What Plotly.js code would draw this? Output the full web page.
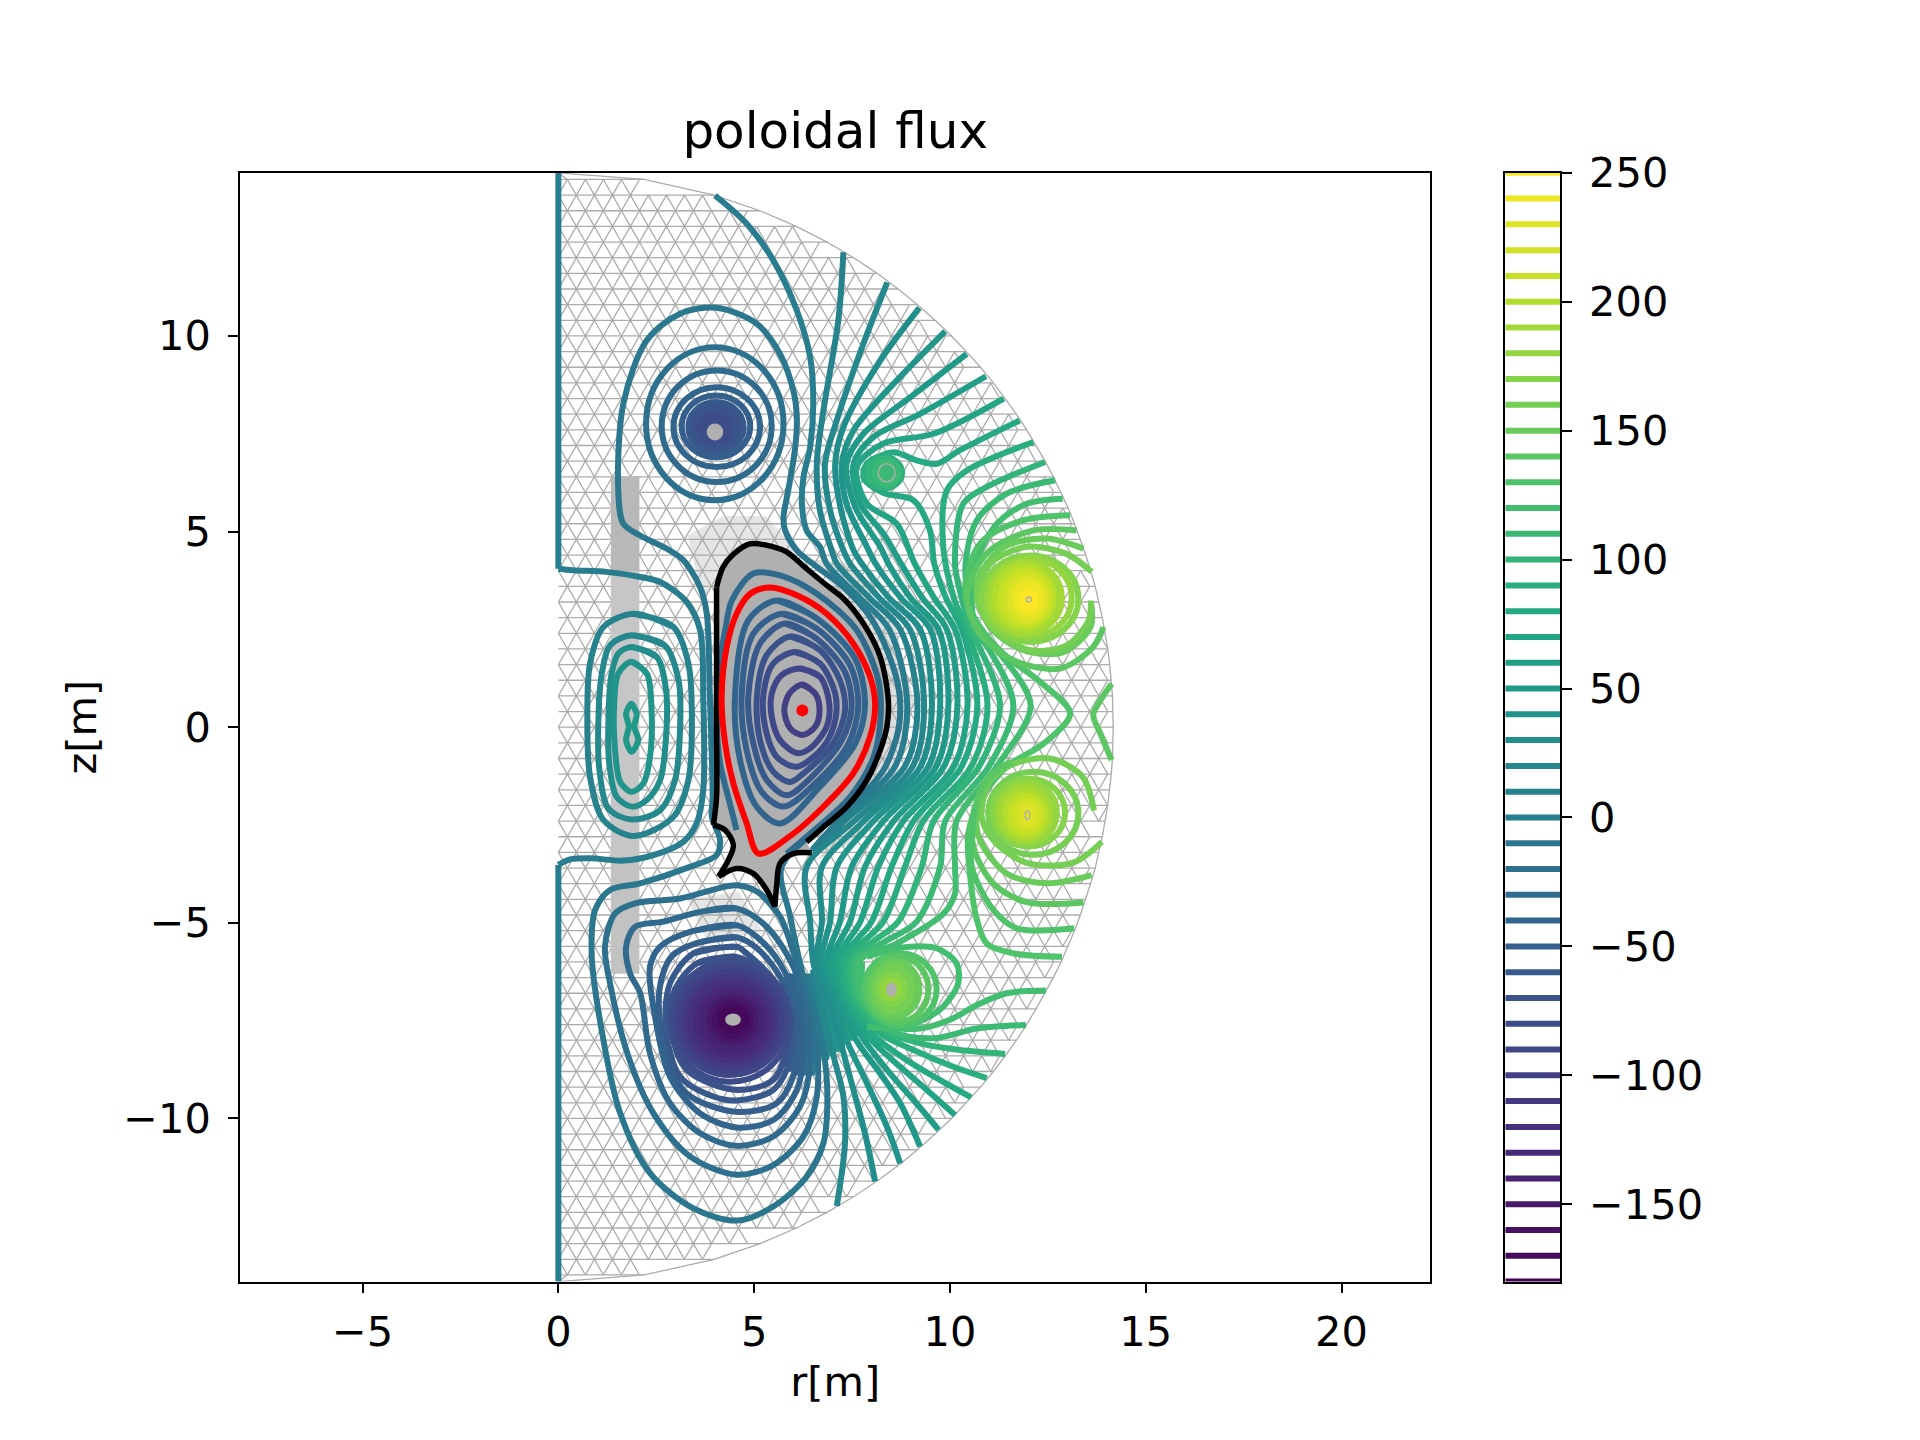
<!DOCTYPE html>
<html>
<head>
<meta charset="utf-8">
<script src="https://cdn.plot.ly/plotly-3.0.1.min.js"></script>
<style>body{margin:0;background:#fff}#chart{width:1920px;height:1440px}</style>
</head>
<body>
<div id="chart"></div>
<script>
// colour bar
const levels = [-180,-170,-160,-150,-140,-130,-120,-110,-100,-90,-80,-70,-60,-50,-40,-30,-20,-10,0,10,20,30,40,50,60,70,80,90,100,110,120,130,140,150,160,170,180,190,200,210,220,230,240,250];
const colorbarTicks = [-150,-100,-50,0,50,100,150,200,250];
const viridis = ['#440154','#482475','#414487','#355f8d','#2a788e','#21918c','#22a884','#44bf70','#7ad151','#bddf26','#fde725'];

// background mesh: row heights, right edge of each row, node columns
const meshZ = [14.17,14,13.6,13.2,12.8,12.4,12,11.6,11.2,10.8,10.4,10,9.6,9.2,8.8,8.4,8,7.6,7.2,6.8,6.4,6,5.6,5.2,4.8,4.4,4,3.6,3.2,2.8,2.4,2,1.6,1.2,.8,.4,0,-.4,-.8,-1.2,-1.6,-2,-2.4,-2.8,-3.2,-3.6,-4,-4.4,-4.8,-5.2,-5.6,-6,-6.4,-6.8,-7.2,-7.6,-8,-8.4,-8.8,-9.2,-9.6,-10,-10.4,-10.8,-11.2,-11.6,-12,-12.4,-12.8,-13.2,-13.6,-14,-14.17];
const meshOuter = [0,2.19,3.98,5.15,6.08,6.86,7.54,8.14,8.68,9.17,9.62,10.04,10.42,10.78,11.11,11.41,11.7,11.96,12.2,12.43,12.64,12.84,13.02,13.18,13.33,13.47,13.59,13.71,13.8,13.89,13.96,14.03,14.08,14.12,14.15,14.16,14.17,14.16,14.15,14.12,14.08,14.03,13.96,13.89,13.8,13.71,13.59,13.47,13.33,13.18,13.02,12.84,12.64,12.43,12.2,11.96,11.7,11.41,11.11,10.78,10.42,10.04,9.62,9.17,8.68,8.14,7.54,6.86,6.08,5.15,3.98,2.19,0];
const meshR = [0,.23,.46,.69,.92,1.15,1.38,1.61,1.84,2.07,2.3,2.53,2.76,2.99,3.22,3.45,3.68,3.91,4.14,4.37,4.6,4.83,5.06,5.29,5.52,5.75,5.98,6.21,6.44,6.67,6.9,7.13,7.36,7.59,7.82,8.05,8.28,8.51,8.74,8.97,9.2,9.43,9.66,9.89,10.12,10.35,10.58,10.81,11.04,11.27,11.5,11.73,11.96,12.19,12.42,12.65,12.88,13.11,13.34,13.57,13.8,14.03];

// refined mesh patches
const denseBandTop = [[1.34,6.4],[2.07,6.4],[2.07,4],[1.34,4]];
const denseBandMid = [[1.34,4],[2.07,4],[2.07,-3.4],[1.34,-3.4]];
const denseBandLow = [[1.34,-3.4],[2.07,-3.4],[2.07,-6.3],[1.34,-6.3]];
const denseUpper = [[3.3,4.9],[4.2,5.4],[5.3,5.4],[6.2,4.4],[5,4.75],[4.1,3.9],[3.7,3.2]];
const denseLower = [[3.3,-4.4],[4.6,-4.2],[5.2,-5.2],[3.8,-5.5]];
const denseRight = [[6.4,4.3],[7.4,4.2],[8.6,2.6],[9.1,.6],[8.6,-1.4],[7.4,-3],[6.6,-3.4],[7.9,-1.6],[8.45,.6],[7.9,2.6]];

// axis and the lines next to it
const axisUpper = [[0,14.17],[0,4.05]];
const axisLower = [[0,-3.52],[0,-14.17]];
const innerZero = [[0,4.05],[.38,4.01],[1.23,3.97],[2.09,3.84],[2.6,3.71],[3.28,3.2],[3.62,2.48],[3.7,.77],[3.7,-1.61],[3.53,-2.46],[3.19,-2.93],[2.43,-3.27],[1.66,-3.41],[.81,-3.35],[.3,-3.38],[0,-3.52]];

// central solenoid loops
const sol10 = [[1.92,2.9],[2.94,2.56],[3.32,1.63],[3.41,.26],[3.32,-1.35],[2.94,-2.29],[1.92,-2.78],[1.15,-2.37],[.81,-1.27],[.74,.26],[.81,1.63],[1.15,2.56]];
const sol20 = [[1.87,2.35],[2.72,2.09],[3.07,1.2],[3.11,.01],[2.98,-1.35],[2.6,-2.12],[1.87,-2.36],[1.28,-2.08],[1.05,-1.1],[1.02,.09],[1.11,1.37],[1.32,2.09]];
const sol30 = [[1.87,2.05],[2.51,1.8],[2.75,.95],[2.75,-.25],[2.6,-1.35],[2.26,-1.86],[1.87,-2.03],[1.49,-1.78],[1.3,-.93],[1.28,.26],[1.36,1.37],[1.53,1.88]];
const sol40 = [[1.87,1.67],[2.26,1.37],[2.38,.43],[2.34,-.76],[2.17,-1.44],[1.87,-1.65],[1.58,-1.4],[1.45,-.59],[1.42,.43],[1.53,1.37]];
const sol50 = [[1.87,.6],[2,.35],[1.94,.01],[2.04,-.33],[1.87,-.63],[1.73,-.33],[1.8,.01],[1.73,.35]];

// plasma
const plasma100 = [[6.23,1.09],[6.56,.86],[6.67,.43],[6.56,.01],[6.23,-.2],[5.92,-.03],[5.77,.43],[5.9,.86]];
const plasma90 = [[6.17,1.5],[6.68,1.29],[6.92,.6],[6.85,.01],[6.43,-.54],[6.09,-.66],[5.66,-.33],[5.45,.26],[5.45,.86],[5.7,1.33]];
const plasma80 = [[6.05,1.92],[6.68,1.63],[7.07,.86],[7.07,.18],[6.77,-.5],[6.09,-1.01],[5.58,-.76],[5.28,.01],[5.24,.86],[5.49,1.63]];
const plasma70 = [[5.92,2.32],[6.68,1.97],[7.19,1.2],[7.32,.43],[7.02,-.42],[6.26,-1.18],[5.92,-1.4],[5.49,-1.14],[5.15,-.33],[5.07,.77],[5.32,1.84]];
const plasma60 = [[5.79,2.65],[6.6,2.26],[7.32,1.41],[7.49,.52],[7.24,-.33],[6.43,-1.31],[5.83,-1.74],[5.32,-1.35],[4.98,-.42],[4.85,.77],[5.15,2.14]];
const plasma50 = [[5.7,2.9],[6.6,2.52],[7.45,1.58],[7.66,.56],[7.41,-.42],[6.6,-1.4],[5.75,-2.03],[5.19,-1.65],[4.81,-.59],[4.68,.77],[4.98,2.39]];
const plasma40 = [[5.58,3.24],[6.6,2.78],[7.58,1.75],[7.83,.6],[7.58,-.42],[6.68,-1.52],[5.66,-2.46],[5.07,-2.04],[4.64,-.84],[4.51,.77],[4.85,2.73]];
const plasmaEdge = [[4.55,-2.63],[4.38,-1.95],[4.13,-.93],[4.04,.26],[4.09,1.46],[4.26,2.48],[4.43,3.24],[4.98,3.93],[5.66,3.88],[6.6,3.41],[7.62,2.48],[8.17,1.2],[8.23,.26],[8.05,-.76],[7.45,-1.78],[6.34,-2.8],[5.83,-3.23]];
const separatrix = [[5.11,-3.23],[4.81,-2.46],[4.47,-1.44],[4.26,-.42],[4.17,.77],[4.3,2.05],[4.55,2.9],[4.9,3.41],[5.41,3.57],[6.09,3.37],[6.85,2.9],[7.53,2.14],[7.96,1.29],[8.09,.6],[7.96,-.25],[7.53,-1.18],[6.85,-1.95],[6,-2.72],[5.11,-3.23]];
const magneticAxis = [[6.23,.43]];

// black boundary, five arcs between its corners
const wallRight = [[4.04,3.58],[4.21,4.1],[4.47,4.42],[4.9,4.69],[5.49,4.61],[5.83,4.48],[6.34,4.05],[6.85,3.63],[7.28,3.29],[7.79,2.65],[8.22,1.8],[8.43,.65],[8.39,.01],[8.22,-.59],[7.88,-1.35],[7.37,-2.03],[6.77,-2.55],[6.34,-2.93]];
const wallCusp1 = [[6.47,-3.21],[6,-3.23],[5.66,-3.48],[5.58,-3.99],[5.53,-4.59]];
const wallCusp2 = [[5.53,-4.59],[5.32,-4.16],[4.98,-3.74],[4.55,-3.61],[4.09,-3.82]];
const wallCusp3 = [[4.09,-3.82],[4.34,-3.4],[4.47,-3.01],[4.26,-2.63],[3.96,-2.5]];
const wallLeft = [[3.96,-2.5],[4.04,-1.78],[4.04,-.08],[4.04,1.63],[4.04,3.58]];

// the long closed line around both lower and upper coils
const outerLoop = [[5.7,-3.57],[6.6,-2.63],[7.62,-1.86],[8.3,-1.1],[8.68,-.08],[8.71,.86],[8.43,1.88],[7.96,2.82],[7.28,3.58],[6.6,4.1],[6.09,4.52],[5.79,5.03],[5.75,5.37],[5.87,6.05],[6.05,7.16],[6.09,7.93],[6,8.61],[5.66,9.54],[5.07,10.31],[4.04,10.72],[3.11,10.57],[2.26,9.89],[1.66,8.27],[1.53,6.05],[1.66,5.2],[2.09,4.9],[2.77,4.56],[3.19,4.27],[3.62,3.58],[3.79,2.9],[3.87,.77],[3.94,-1.78],[3.92,-2.29],[4.13,-2.89],[4.04,-3.27],[3.36,-3.57],[2.09,-3.99],[1.32,-4.16],[.94,-4.67],[.85,-5.78],[1.06,-7.48],[1.58,-9.87],[2.34,-11.4],[3.45,-12.3],[4.56,-12.61],[5.49,-12.25],[6.34,-11.49],[6.77,-10.63],[6.87,-9.44],[6.77,-8.25],[6.51,-7.14],[6.26,-6.38],[5.92,-4.84],[5.7,-3.57]];

// lower left coil, outer loops
const lowA = [[5.66,-4.84],[5.15,-4.25],[4.55,-4.04],[3.11,-4.38],[1.96,-4.5],[1.45,-4.76],[1.19,-5.61],[1.32,-6.55],[1.79,-8.42],[2.43,-9.87],[3.36,-10.97],[4.55,-11.44],[5.49,-11.19],[6.26,-10.46],[6.6,-9.44],[6.6,-8.25],[6.39,-7.23],[6.09,-6.04]];
const lowB = [[4.55,-4.63],[3.62,-4.72],[2.68,-4.97],[1.96,-5.1],[1.73,-5.61],[1.83,-6.29],[2.09,-6.8],[2.34,-8.34],[2.85,-9.61],[3.62,-10.38],[4.55,-10.7],[5.49,-10.46],[6.17,-9.7],[6.43,-8.59],[6.34,-7.4],[6,-6.12],[5.32,-5.1]];
const lowC = [[4.55,-5.06],[3.36,-5.23],[2.6,-5.61],[2.34,-6.12],[2.47,-7.4],[2.85,-8.93],[3.62,-9.87],[4.55,-10.23],[5.49,-10.04],[6.09,-9.27],[6.26,-8.25],[6.13,-7.14],[5.66,-6.04],[5.07,-5.36]];
const lowD = [[4.55,-5.37],[3.53,-5.52],[2.89,-5.86],[2.58,-6.72],[2.72,-8.25],[3.28,-9.36],[4.55,-9.83],[5.58,-9.61],[6.05,-8.76],[6.09,-7.57],[5.66,-6.38],[5.07,-5.65]];
const lowE = [[4.55,-5.61],[3.45,-5.78],[2.85,-6.55],[2.75,-7.74],[3.11,-8.93],[3.96,-9.44],[4.55,-9.54],[5.49,-9.27],[5.92,-8.5],[5.92,-7.31],[5.49,-6.46],[4.81,-5.78]];
const lowF = [[4.55,-5.87],[3.53,-6.04],[2.94,-6.8],[2.89,-7.74],[3.28,-8.76],[4.55,-9.27],[5.49,-9.01],[5.83,-8.16],[5.75,-7.14],[5.24,-6.29]];

// tightly packed pieces between the lower left coil and the small lower coil
const waistLevel = [-60,-50,-40,-30,-20,-10,0,10,20,30,40,50,60,70,80,90,100,110,120];
const waistTopR = [5.75,5.85,5.95,6.05,6.15,6.27,6.4,6.5,6.62,6.75,6.87,7,7.12,7.24,7.36,7.46,7.56,7.66,7.76];
const waistTopZ = [-6.4,-6.3,-6.3,-6.3,-6.3,-6.3,-6.3,-6.2,-6.1,-6.1,-6.1,-6.1,-6,-6,-6,-6,-6,-6,-6];
const waistMidR = [5.98,6.08,6.18,6.28,6.38,6.48,6.58,6.67,6.76,6.85,6.95,7.05,7.15,7.25,7.35,7.45,7.55,7.65,7.75];
const waistMidZ = [-7.5,-7.5,-7.5,-7.5,-7.5,-7.5,-7.5,-7.5,-7.3,-7.3,-7.2,-7.2,-7.1,-7,-7,-7,-7,-6.95,-6.9];
const waistLowR = [5.8,5.92,6.02,6.12,6.22,6.35,6.47,6.62,6.85,7,7.12,7.25,7.35,7.45,7.55,7.65,7.75,7.85,7.92];
const waistLowZ = [-8.7,-8.8,-8.9,-8.9,-8.9,-8.9,-8.9,-8.7,-8.5,-8.4,-8.3,-8.2,-8.1,-8,-8,-7.9,-7.9,-7.8,-7.7];

// lines running from the top of the boundary round the plasma
const run0 = [[4,13.59],[4.81,12.87],[5.49,11.93],[6.09,10.65],[6.43,9.46],[6.51,8.27],[6.43,7.16],[6.26,6.39],[6.22,5.71],[6.34,5.03],[6.68,4.61],[6.85,4.18],[7.7,3.3],[8.45,2.5],[8.91,.56],[8.6,-1],[7.15,-2.4],[6.47,-3.15]];
const run10 = [[7.28,12.14],[7.15,10.4],[6.77,8.1],[6.6,6.73],[6.68,5.54],[6.98,4.52],[7.11,4.18],[7.95,3.3],[8.73,2.5],[9.17,.56],[8.85,-1],[7.3,-2.4],[6.55,-3.25]];
const run20 = [[8.4,11.37],[7.79,9.8],[7.11,7.84],[6.81,6.73],[6.94,5.54],[7.28,4.52],[7.45,4.18],[8.2,3.3],[8.98,2.5],[9.34,.56],[9.05,-1],[7.55,-2.4],[6.34,-3.57],[6.43,-4.97],[6.5,-5.95],[6.68,-6.72],[6.77,-7.4],[7.03,-8.42],[7.28,-9.44],[7.32,-10.63],[7.11,-12.24]];
const run30 = [[9.22,10.72],[8.22,9.37],[7.28,7.67],[7.07,6.73],[7.2,5.63],[7.54,4.52],[7.75,4.18],[8.45,3.3],[9.24,2.5],[9.54,.56],[9.25,-1],[7.8,-2.4],[6.73,-3.57],[6.73,-4.97],[6.6,-5.95],[6.9,-6.89],[7.19,-7.99],[7.49,-9.1],[7.83,-10.38],[8.09,-11.61]];
const run40 = [[9.88,10.12],[8.64,8.86],[7.54,7.59],[7.24,6.73],[7.36,5.71],[7.88,4.61],[8.1,4.18],[8.75,3.3],[9.5,2.5],[9.75,.56],[9.45,-1],[8.05,-2.4],[7.11,-3.57],[6.94,-4.97],[6.72,-5.95],[7.02,-6.89],[7.36,-7.99],[7.88,-9.1],[8.39,-10.21],[8.73,-11.15]];
const run50 = [[10.43,9.54],[9,8.44],[7.79,7.5],[7.36,6.73],[7.58,5.63],[8.22,4.61],[8.43,4.18],[9,3.3],[9.71,2.5],[9.96,.56],[9.65,-1],[8.3,-2.4],[7.49,-3.57],[7.19,-4.97],[6.86,-5.95],[7.15,-6.89],[7.58,-7.95],[8.22,-8.85],[8.73,-9.61],[9.24,-10.72]];
const run60 = [[10.92,8.97],[9.24,8.01],[8.05,7.42],[7.54,6.73],[7.71,5.71],[8.3,4.95],[8.75,4.18],[9.3,3.3],[9.92,2.5],[10.19,.56],[9.85,-1],[8.56,-2.4],[7.83,-3.57],[7.45,-4.97],[6.98,-5.95],[7.24,-6.89],[7.75,-7.91],[8.47,-8.85],[9.07,-9.53],[9.71,-10.29]];
const run70 = [[11.37,8.4],[9.58,7.5],[8.3,7.25],[7.62,6.65],[7.88,5.71],[8.64,5.2],[9.1,4.18],[9.6,3.3],[10.13,2.5],[10.45,.56],[10.1,-1],[8.81,-2.4],[8.17,-3.57],[7.71,-4.97],[7.11,-5.95],[7.32,-6.89],[7.92,-7.91],[8.73,-8.68],[9.41,-9.27],[10.13,-9.91]];
const run80 = [[11.78,7.84],[10.26,7.08],[9.66,6.73],[9.15,6.82],[8.56,7.03],[8.05,6.82],[7.79,6.39],[8.3,5.99],[9.07,5.8],[9.49,5.03],[9.6,4.18],[9.9,3.3],[10.3,2.5],[10.7,.56],[10.3,-1],[9.07,-2.4],[8.51,-3.57],[8,-4.97],[7.24,-5.95],[7.41,-6.89],[8.05,-7.87],[8.9,-8.51],[9.75,-9.02],[10.54,-9.46]];
const run90 = [[12.13,7.29],[10.43,6.56],[9.92,6.05],[9.83,4.61],[10.1,3.3],[10.42,2.5],[10.96,.56],[10.55,-1],[9.32,-2.4],[8.85,-3.57],[8.3,-4.97],[7.37,-5.95],[7.49,-6.89],[8.22,-7.82],[9.07,-8.25],[10.09,-8.68],[10.94,-8.97]];
const run100 = [[12.43,6.78],[10.94,6.14],[10.34,5.71],[10.13,4.18],[10.3,3.3],[10.52,2.5],[10.75,2.05],[11.28,.56],[10.75,-1],[9.58,-2.4],[9.28,-3.57],[8.68,-4.97],[8,-5.5],[7.49,-5.95],[7.58,-6.89],[8.39,-7.78],[9.24,-8.08],[10.26,-8.25],[11.41,-8.35]];
const run110 = [[12.69,6.31],[11.45,5.97],[10.69,5.29],[10.4,4.18],[10.45,3.3],[10.6,2.5],[10.96,2.05],[11.62,.56],[11,-1],[9.88,-2.4],[9.75,-3.57],[9.15,-4.97],[8.3,-5.5],[7.62,-5.95],[7.66,-6.89],[8.56,-7.78],[9.58,-7.95],[10.69,-7.7],[11.94,-7.61]];
const run120 = [[12.88,5.84],[11.96,5.71],[11.2,5.2],[10.65,4.18],[10.55,3.3],[10.68,2.5],[11.2,1.97],[12.06,.56],[11.2,-1],[10.17,-2.4],[10.13,-3.57],[10.13,-4.25],[9.84,-4.76],[8.64,-5.53],[7.71,-5.95],[7.75,-6.89],[8.56,-7.65],[9.24,-7.7],[10,-7.48],[10.69,-7.1],[11.45,-6.8],[12.45,-6.73]];
const run130 = [[13.07,5.42],[11.88,5.29],[10.77,4.69],[10.39,3.41],[10.77,2.56],[11.45,1.8],[12.3,1.16],[13.07,.35],[12.39,-.42],[11.45,-1.01],[10.77,-1.86],[10.47,-2.72],[10.51,-3.74],[10.69,-4.93],[10.94,-5.53],[11.62,-5.78],[12.86,-5.87]];

// arcs round the two big outer coils
const arcUp140 = [[13.23,5.03],[12.13,5.03],[10.94,4.44],[10.43,3.33],[10.77,2.39],[11.62,1.71],[12.81,1.5],[13.66,2.05],[13.92,2.56]];
const arcUp150 = [[13.41,4.56],[12.47,4.82],[11.37,4.6],[10.68,3.67],[11.03,2.56],[11.88,1.97],[12.9,1.92],[13.59,2.56],[13.6,3.2]];
const arcUp160 = [[13.62,3.97],[12.98,4.43],[11.96,4.61],[11.03,4.18],[10.69,3.33],[11.15,2.47],[12.05,1.97],[12.98,2.09],[13.54,2.73],[13.6,3.24]];
const saddleRight = [[14.13,1.11],[13.79,.6],[13.66,.31],[13.84,-.16],[14.13,-.84]];
const arcLow160 = [[13.88,-2.93],[13.15,-3.46],[11.96,-3.47],[11.11,-2.89],[10.81,-2.28],[11.03,-1.36],[11.62,-.94],[12.56,-.8],[13.39,-1.27],[13.68,-2.13]];
const arcLow150 = [[13.62,-3.78],[12.47,-3.99],[11.45,-3.74],[10.77,-2.89],[10.68,-2.2],[11.03,-1.36],[11.62,-.92]];
const arcLow140 = [[13.41,-4.48],[11.96,-4.47],[11.11,-4.0],[10.6,-3.06],[10.6,-2.2],[10.94,-1.36],[11.54,-.88]];
const arcLow130 = [[13.17,-5.14],[11.71,-5.14],[11.11,-4.67],[10.56,-3.58],[10.56,-2.8],[10.64,-2.0]];
const coilLowerOpen = [[7.88,-5.87],[8.64,-5.65],[9.66,-5.65],[10.17,-6.04],[10.21,-6.55],[9.83,-7.14],[9.32,-7.48],[8.64,-7.7],[7.88,-7.65]];

// nested rings read as level, left, right, bottom, top; solid = no mesh visible inside
const ringLevel = [-20,-30,-40,-50,-60,-70,-80, 90,100,110, -80,-90,-100,-110,-120,-130,-140,-150,-160,-170, 130,140,150,160,170,180, 170,180,190,200,210,220,230,240,250, 160,170,180,190,200,210,220,230];
const ringLeft = [2.24,2.64,2.94,3.15,3.32,3.45,3.6, 7.79,7.92,8.09, 2.87,2.98,3.11,3.24,3.36,3.53,3.7,3.87,4,4.13, 7.8,7.9,8,8.1,8.2,8.3, 10.81,10.94,11.03,11.15,11.28,11.41,11.54,11.67,11.84, 10.98,11.07,11.2,11.28,11.41,11.54,11.67,11.84];
const ringRight = [5.75,5.45,5.15,4.9,4.73,4.6,4.4, 8.78,8.73,8.68, 5.92,5.79,5.68,5.53,5.45,5.32,5.15,5.02,4.9,4.79, 9.66,9.45,9.22,9.03,8.86,8.71, 13.28,13.11,12.86,12.65,12.6,12.52,12.43,12.35,12.18, 13.28,12.94,12.73,12.56,12.47,12.37,12.29,12.15];
const ringBottom = [5.8,6.27,6.65,6.9,7.03,7.16,7.29, 6.1,6.14,6.22, -9.06,-8.89,-8.76,-8.63,-8.51,-8.38,-8.21,-8.04,-7.91,-7.74, -7.61,-7.53,-7.4,-7.27,-7.06,-6.93, 2.18,2.31,2.39,2.52,2.6,2.69,2.77,2.9,3.03, -3.26,-3.05,-2.97,-2.88,-2.8,-2.71,-2.59,-2.48];
const ringTop = [9.71,9.12,8.69,8.48,8.31,8.18,7.97, 6.91,6.86,6.78, -5.99,-6.12,-6.25,-6.38,-6.5,-6.67,-6.8,-6.93,-7.06,-7.19, -5.78,-5.87,-5.99,-6.12,-6.33,-6.48, 4.39,4.31,4.22,4.14,4.01,3.91,3.8,3.67,3.46, -1.14,-1.31,-1.4,-1.53,-1.66,-1.78,-1.9,-2];
const ringSolid = [0,0,0,0,1,1,1, 0,1,1, 0,1,1,1,1,1,1,1,1,1, 0,0,1,1,1,1, 0,0,1,1,1,1,1,1,1, 0,0,1,1,1,1,1,1];

// bare mesh showing at the coil centres: left, right, bottom, top, filled
const coreLeft = [3.79,8.17,4.26,8.37,11.95,11.92];
const coreRight = [4.21,8.6,4.66,8.64,12.08,12.04];
const coreBottom = [7.33,6.27,-7.63,-6.89,3.2,-2.36];
const coreTop = [7.76,6.73,-7.32,-6.53,3.32,-2.14];
const coreFilled = [1,0,1,1,0,0];

const openLines = [
  [0,axisUpper],[0,axisLower],[0,innerZero],[-10,outerLoop],
  [0,run0],[10,run10],[20,run20],[30,run30],[40,run40],[50,run50],[60,run60],[70,run70],
  [80,run80],[90,run90],[100,run100],[110,run110],[120,run120],[130,run130],
  [140,arcUp140],[150,arcUp150],[160,arcUp160],[140,saddleRight],
  [160,arcLow160],[150,arcLow150],[140,arcLow140],[130,arcLow130],[120,coilLowerOpen],
  [-30,plasmaEdge]
];
const closedLines = [
  [10,sol10],[20,sol20],[30,sol30],[40,sol40],[50,sol50],
  [-100,plasma100],[-90,plasma90],[-80,plasma80],[-70,plasma70],[-60,plasma60],[-50,plasma50],[-40,plasma40],
  [-20,lowA],[-30,lowB],[-40,lowC],[-50,lowD],[-60,lowE],[-70,lowF]
];

function hex(c, i) { return parseInt(c.substr(1 + 2 * i, 2), 16); }

function levelColor(v) {
  const t = (v - levels[0]) / (levels[levels.length - 1] - levels[0]) * (viridis.length - 1);
  const i = Math.min(Math.floor(t), viridis.length - 2);
  const f = t - i;
  const rgb = [0, 1, 2].map(k => Math.round(hex(viridis[i], k) * (1 - f) + hex(viridis[i + 1], k) * f));
  return 'rgb(' + rgb.join(',') + ')';
}

const rs = p => p.map(a => a[0]);
const zs = p => p.map(a => a[1]);
const wrap = p => p.concat(p.slice(0, 2));
const LW = 6;

function curve(p, color, width) {
  return {x: rs(p), y: zs(p), mode: 'lines', hoverinfo: 'skip', showlegend: false,
    line: {color: color, width: width, shape: 'spline', smoothing: 0.9}};
}

function patch(p, color) {
  return {x: rs(p), y: zs(p), mode: 'lines', fill: 'toself', fillcolor: color, hoverinfo: 'skip',
    showlegend: false, line: {width: 0}};
}

function meshTrace() {
  const x = [], y = [];
  const rowNodes = i => meshR.filter((r, k) => k % 2 === i % 2 && r <= meshOuter[i]);
  meshZ.forEach((z, i) => {
    x.push(0, meshOuter[i], null);
    y.push(z, z, null);
    if (i === meshZ.length - 1) return;
    const a = rowNodes(i), b = rowNodes(i + 1);
    // one row starts at r=0 and its neighbour half a cell later
    const first = i % 2 === 0 ? a : b, second = i % 2 === 0 ? b : a;
    for (let k = 0; k < Math.min(first.length, second.length); k++) {
      const zFirst = i % 2 === 0 ? z : meshZ[i + 1];
      const zSecond = i % 2 === 0 ? meshZ[i + 1] : z;
      x.push(first[k], second[k]);
      y.push(zFirst, zSecond);
    }
    x.push(null);
    y.push(null);
  });
  meshZ.forEach((z, i) => {
    x.push(meshOuter[i]);
    y.push(z);
  });
  return {x: x, y: y, mode: 'lines', hoverinfo: 'skip', showlegend: false,
    line: {color: '#ababab', width: 1.3}};
}

const wallAll = wallRight.concat(wallCusp1, wallCusp2, wallCusp3, wallLeft);
const traces = [meshTrace(),
  patch(denseBandTop, '#b8b8b8'),
  patch(denseBandMid, '#c6c6c6'),
  patch(denseBandLow, '#c2c2c2'),
  patch(denseUpper, 'rgba(170,170,170,0.3)'),
  patch(denseLower, 'rgba(170,170,170,0.3)'),
  patch(denseRight, 'rgba(170,170,170,0.4)'),
  patch(wallAll, '#b0b0b0')];

waistLevel.forEach((lv, i) => {
  const p = [[waistTopR[i], waistTopZ[i]], [waistMidR[i], waistMidZ[i]], [waistLowR[i], waistLowZ[i]]];
  traces.push(curve(p, levelColor(lv), LW));
});
openLines.forEach(([lv, p]) => traces.push(curve(p, levelColor(lv), LW)));
closedLines.forEach(([lv, p]) => traces.push(curve(wrap(p), levelColor(lv), LW)));
[wallRight, wallCusp1, wallCusp2, wallCusp3, wallLeft].forEach(p => traces.push(curve(p, '#000', 5.5)));
traces.push(curve(separatrix, '#ff0000', 6));
traces.push({x: rs(magneticAxis), y: zs(magneticAxis), mode: 'markers', hoverinfo: 'skip', showlegend: false,
  marker: {color: '#ff0000', size: 12}});

levels.forEach(lv => {
  traces.push({x: [0, 1], y: [lv, lv], xaxis: 'x2', yaxis: 'y2', mode: 'lines', hoverinfo: 'skip',
    showlegend: false, line: {color: levelColor(lv), width: LW}});
});

const shapes = ringLevel.map((lv, i) => ({type: 'circle', xref: 'x', yref: 'y',
  x0: ringLeft[i], x1: ringRight[i], y0: ringBottom[i], y1: ringTop[i],
  fillcolor: ringSolid[i] ? levelColor(lv) : 'rgba(0,0,0,0)',
  line: {color: levelColor(lv), width: LW}}));
coreLeft.forEach((v, i) => shapes.push({type: 'circle', xref: 'x', yref: 'y',
  x0: v, x1: coreRight[i], y0: coreBottom[i], y1: coreTop[i],
  fillcolor: coreFilled[i] ? '#b0b0b0' : 'rgba(0,0,0,0)', line: {color: '#b0b0b0', width: coreFilled[i] ? 0 : 1.4}}));

const axisCommon = {showgrid: false, zeroline: false, showline: true, mirror: true, linecolor: '#000', linewidth: 2.2,
  ticks: 'outside', ticklen: 9.7, tickwidth: 2.2, tickcolor: '#000', ticklabelstandoff: 9};

const layout = {
  width: 1920, height: 1440, paper_bgcolor: '#fff', plot_bgcolor: '#fff', showlegend: false,
  margin: {l: 0, r: 0, t: 0, b: 0},
  font: {family: 'DejaVu Sans', size: 41.5, color: '#000'},
  title: {text: 'poloidal flux', font: {family: 'DejaVu Sans', size: 50, color: '#000'},
    x: 0.435, xanchor: 'center', y: 0.8975, yanchor: 'bottom', xref: 'container', yref: 'container'},
  xaxis: Object.assign({}, axisCommon, {domain: [0.125, 0.745], range: [-8.13, 22.27], tickvals: [-5, 0, 5, 10, 15, 20],
    ticklabelstandoff: 3, title: {text: 'r[m]', standoff: 12, font: {size: 41.5}}}),
  yaxis: Object.assign({}, axisCommon, {domain: [0.11, 0.88], range: [-14.17, 14.17], tickvals: [-10, -5, 0, 5, 10],
    title: {text: 'z[m]', standoff: 14, font: {size: 41.5}}}),
  xaxis2: {domain: [0.784, 0.8125], range: [0, 1], anchor: 'y2', showgrid: false, zeroline: false, showticklabels: false,
    ticks: '', showline: true, mirror: true, linecolor: '#000', linewidth: 2.2},
  yaxis2: Object.assign({}, axisCommon, {domain: [0.11, 0.88], range: [-180, 250], anchor: 'x2', side: 'right',
    mirror: true, tickvals: colorbarTicks}),
  shapes: shapes
};

Plotly.newPlot('chart', traces, layout, {displayModeBar: false});
</script>
</body>
</html>
